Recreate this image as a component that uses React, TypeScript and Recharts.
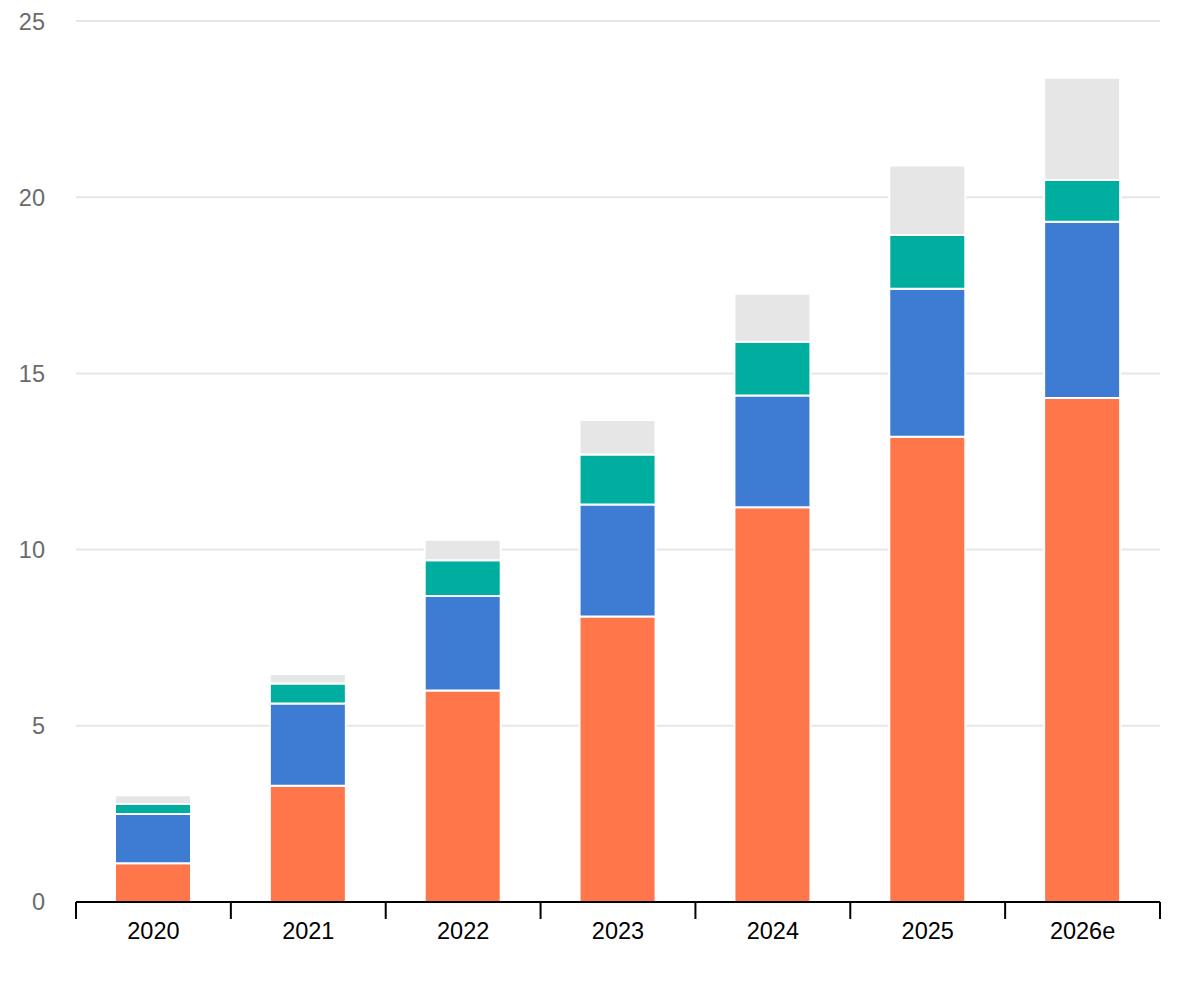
import React from "react";
import { BarChart, Bar, XAxis, YAxis, CartesianGrid } from "recharts";

const categories = ["2020", "2021", "2022", "2023", "2024", "2025", "2026e"];
const orangeValues = [1.1, 3.3, 6.0, 8.1, 11.2, 13.2, 14.3];
const blueValues = [1.4, 2.33, 2.68, 3.18, 3.17, 4.2, 5.0];
const tealValues = [0.28, 0.57, 1.02, 1.42, 1.53, 1.53, 1.19];
const grayValues = [0.25, 0.27, 0.58, 0.98, 1.36, 1.97, 2.9];
const yTicks = [0, 5, 10, 15, 20, 25];

const data = categories.map((c, i) => ({
  name: c,
  orange: orangeValues[i],
  blue: blueValues[i],
  teal: tealValues[i],
  gray: grayValues[i],
}));

const FONT = "'Liberation Sans', Arial, sans-serif";

const XTick = (props: any) => {
  const { x, y, payload, index, visibleTicksCount, width } = props;
  const half =
    (payload && typeof payload.offset === "number" && payload.offset > 0
      ? payload.offset
      : width && visibleTicksCount
      ? width / visibleTicksCount / 2
      : 77);
  const isLast = index === (visibleTicksCount ?? categories.length) - 1;
  return (
    <g>
      <line x1={x - half} x2={x - half} y1={y} y2={y + 17} stroke="#000" strokeWidth={2} />
      {isLast && (
        <line x1={x + half} x2={x + half} y1={y} y2={y + 17} stroke="#000" strokeWidth={2} />
      )}
      <text
        x={x}
        y={y + 29}
        dy="0.355em"
        textAnchor="middle"
        fill="#000"
        fontSize={23.5}
        fontFamily={FONT}
      >
        {payload.value}
      </text>
    </g>
  );
};

export default function App() {
  return (
    <div style={{ width: 1184, height: 970, fontFamily: FONT }}>
      <BarChart
        width={1184}
        height={970}
        data={data}
        margin={{ top: 13, right: 32, bottom: 16, left: 0 }}
        barSize={76}
      >
        <CartesianGrid vertical={false} stroke="#e6e6e6" strokeWidth={2} />
        <XAxis
          dataKey="name"
          axisLine={{ stroke: "#000", strokeWidth: 2 }}
          tickLine={false}
          tickSize={0}
          tickMargin={0}
          height={60}
          interval={0}
          tick={<XTick />}
        />
        <YAxis
          domain={[0, 25]}
          ticks={yTicks}
          width={68}
          axisLine={false}
          tickLine={false}
          tickSize={0}
          tickMargin={31}
          tick={{ fill: "#6b6b6b", fontSize: 23.5, fontFamily: FONT }}
        />
        <Bar dataKey="orange" stackId="a" fill="#ff764a" stroke="#fff" strokeWidth={2} isAnimationActive={false} />
        <Bar dataKey="blue" stackId="a" fill="#3e7bd3" stroke="#fff" strokeWidth={2} isAnimationActive={false} />
        <Bar dataKey="teal" stackId="a" fill="#00aea0" stroke="#fff" strokeWidth={2} isAnimationActive={false} />
        <Bar dataKey="gray" stackId="a" fill="#e6e6e6" stroke="#fff" strokeWidth={2} isAnimationActive={false} />
      </BarChart>
    </div>
  );
}
